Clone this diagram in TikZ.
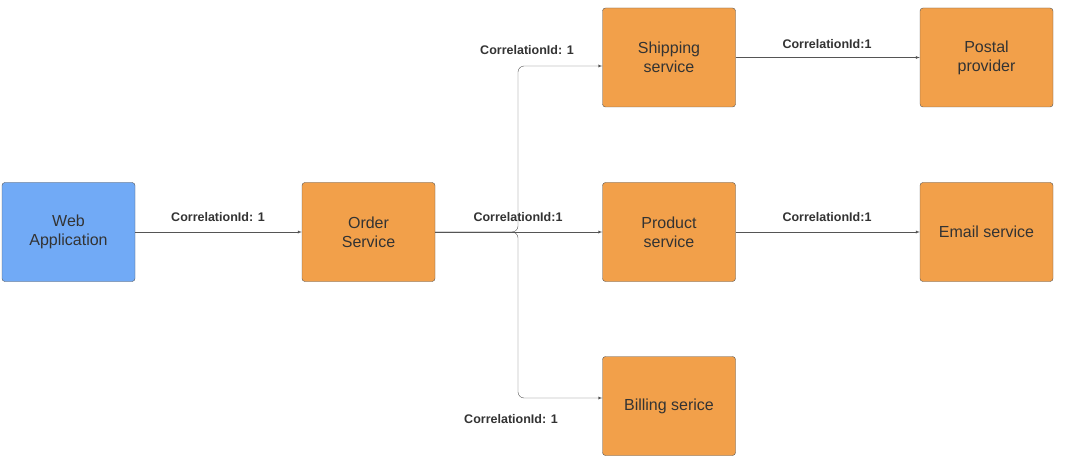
\documentclass[tikz,border=0pt]{standalone}
\usepackage{fontspec}
\setmainfont{Liberation Sans}
\usetikzlibrary{positioning}
\definecolor{boxorange}{HTML}{F2A04A}
\definecolor{boxblue}{HTML}{71AAF6}
\definecolor{edgegray}{HTML}{555555}
\tikzset{
  svc/.style={draw=edgegray, rounded corners=3pt, minimum width=133pt, minimum height=99pt,
    align=center, font=\fontsize{16}{19}\selectfont, text=black!80, fill=boxorange},
  web/.style={svc, fill=boxblue},
  link/.style={draw=edgegray, -latex, rounded corners=6pt},
  lbl/.style={font=\fontsize{12.5}{14}\selectfont\bfseries, text=black!80}
}
\begin{document}
\begin{tikzpicture}[x=1pt,y=-1pt]
  \useasboundingbox (0,0) rectangle (1074,468);
  % services
  \node[web] (webapp) at (68.5,232) {Web\\Application};
  \node[svc] (order) at (368.5,232) {Order\\Service};
  \node[svc] (shipping) at (669,57.5) {Shipping\\service};
  \node[svc] (product) at (669,232) {Product\\service};
  \node[svc] (billing) at (669,406) {Billing serice};
  \node[svc] (postal) at (986.5,57.5) {Postal\\provider};
  \node[svc] (email) at (986.5,232) {Email service};
  % junction points
  \coordinate (jup) at (518,66);
  \coordinate (jdown) at (518,398);
  % connectors
  \draw[link] (webapp) -- (order);
  \draw[link] (order) -- (product);
  \draw[link] (order.east) -- (518,232) -- (jup) -- (jup -| shipping.west);
  \draw[link] (order.east) -- (518,232) -- (jdown) -- (jdown -| billing.west);
  \draw[link] (shipping) -- (postal);
  \draw[link] (product) -- (email);
  % labels
  \node[lbl] at (218,217) {CorrelationId: 1};
  \node[lbl] at (518,217) {CorrelationId:1};
  \node[lbl] at (527,50) {CorrelationId: 1};
  \node[lbl] at (511,419) {CorrelationId: 1};
  \node[lbl] at (827,44) {CorrelationId:1};
  \node[lbl] at (827,217) {CorrelationId:1};
\end{tikzpicture}
\end{document}
